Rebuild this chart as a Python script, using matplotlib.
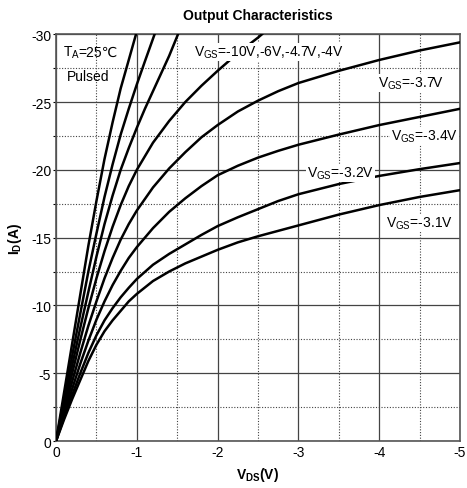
import numpy as np
import matplotlib
matplotlib.use("Agg")
import matplotlib.pyplot as plt
from matplotlib.ticker import MultipleLocator

plt.rcParams['font.family'] = ['Liberation Sans', 'DejaVu Sans']
plt.rcParams['mathtext.fontset'] = 'custom'
plt.rcParams['mathtext.rm'] = 'Liberation Sans'
plt.rcParams['mathtext.bf'] = 'Liberation Sans:bold'
plt.rcParams['axes.unicode_minus'] = False

# P-channel curves, magnitudes (|Vds| in V, |Id| in A)
vds_m10 = [0, 0.1, 0.2, 0.3, 0.4, 0.5, 0.6, 0.7, 0.8, 0.9, 0.99]
id_m10 = [0, 3.6, 7.2, 10.8, 14.4, 17.7, 20.8, 23.5, 26.0, 28.1, 30.0]

vds_m6 = [0, 0.1, 0.2, 0.3, 0.4, 0.5, 0.6, 0.7, 0.8, 0.9, 1.0, 1.1, 1.22]
id_m6 = [0, 3.15, 6.3, 9.4, 12.5, 15.3, 18.0, 20.4, 22.6, 24.5, 26.3, 28.0, 30.0]

vds_m47 = [0, 0.1, 0.2, 0.3, 0.4, 0.5, 0.6, 0.7, 0.8, 0.9, 1.0, 1.1, 1.2, 1.3, 1.4, 1.51]
id_m47 = [0, 2.8, 5.6, 8.35, 11.0, 13.6, 16.0, 18.1, 20.0, 21.6, 23.1, 24.5, 25.8, 27.1, 28.4, 30.0]

vds_m4 = [0, 0.1, 0.2, 0.3, 0.4, 0.5, 0.6, 0.7, 0.8, 0.9, 1.0, 1.2, 1.4, 1.6, 1.8,
          2.0, 2.25, 2.5, 2.55]
id_m4 = [0, 2.5, 5.0, 7.45, 9.8, 12.0, 14.0, 15.8, 17.4, 18.8, 20.0, 22.0, 23.6, 25.0, 26.2,
         27.3, 28.6, 29.75, 30.0]

vds_low = [0, 0.1, 0.2, 0.3, 0.4, 0.5, 0.6, 0.7, 0.8, 0.9, 1.0, 1.2, 1.4, 1.6, 1.8,
           2.0, 2.25, 2.5, 2.75, 3.0, 3.5, 4.0, 4.5, 5.0]
id_m37 = [0, 2.2, 4.4, 6.5, 8.5, 10.3, 12.0, 13.5, 14.85, 16.0, 17.0, 18.7, 20.1, 21.3, 22.4,
          23.3, 24.3, 25.1, 25.8, 26.4, 27.3, 28.1, 28.8, 29.4]
id_m34 = [0, 1.95, 3.85, 5.7, 7.4, 8.95, 10.3, 11.5, 12.55, 13.5, 14.3, 15.7, 16.9, 17.9, 18.8,
          19.6, 20.3, 20.9, 21.4, 21.85, 22.6, 23.3, 23.9, 24.5]
id_m32 = [0, 1.75, 3.4, 5.0, 6.5, 7.8, 8.9, 9.8, 10.6, 11.3, 11.95, 13.0, 13.8, 14.5, 15.2,
          15.85, 16.5, 17.1, 17.7, 18.2, 18.95, 19.55, 20.05, 20.5]
id_m31 = [0, 1.6, 3.1, 4.5, 5.9, 7.1, 8.1, 8.9, 9.6, 10.3, 10.85, 11.8, 12.5, 13.1, 13.6,
          14.1, 14.65, 15.1, 15.5, 15.9, 16.7, 17.4, 18.0, 18.5]

curves = [(vds_m10, id_m10), (vds_m6, id_m6), (vds_m47, id_m47), (vds_m4, id_m4),
          (vds_low, id_m37), (vds_low, id_m34), (vds_low, id_m32), (vds_low, id_m31)]

fig = plt.figure(figsize=(4.67, 4.89), dpi=100)
ax = fig.add_axes([0.120, 0.096, 0.865, 0.832])

for vds, idd in curves:
    ax.plot(-np.array(vds), -np.array(idd), color='black', lw=1.8, zorder=3,
            solid_joinstyle='round')

ax.set_xlim(0, -5)
ax.set_ylim(0, -30)
ax.xaxis.set_major_locator(MultipleLocator(1))
ax.xaxis.set_minor_locator(MultipleLocator(0.5))
ax.yaxis.set_major_locator(MultipleLocator(5))
ax.yaxis.set_minor_locator(MultipleLocator(2.5))

ax.grid(True, which='major', color='#444444', lw=0.9, ls='-')
ax.grid(True, which='minor', color='#444444', lw=0.8, ls=(0, (1, 1.5)))
ax.set_axisbelow(True)

ax.tick_params(axis='y', which='both', direction='out', length=2.5, width=0.8,
               labelsize=10, pad=1)
ax.tick_params(axis='x', which='both', length=0, labelsize=10, pad=3)
for sp in ax.spines.values():
    sp.set_color('#555555')
    sp.set_linewidth(1.2)

ax.set_title('Output Characteristics', fontsize=10, fontweight='bold', pad=11)
ax.set_xlabel(r'$\mathbf{V_{DS}(V)}$', fontsize=10, labelpad=4)
ax.set_ylabel(r'$\mathbf{I_{D}(A)}$', fontsize=10, labelpad=5)

fs = 10
ax.text(-0.08, -28.4, r'T$_\mathregular{A}$', fontsize=fs, ha='left', va='baseline', zorder=4)
ax.text(-0.28, -28.4, '=25℃', fontsize=fs, ha='left', va='baseline', zorder=4)
ax.text(-0.14, -26.9, 'Pulsed', fontsize=fs, ha='left', va='center', zorder=4)

box = dict(facecolor='white', edgecolor='none', pad=0.6)
ax.text(-1.71, -28.7, r'V$_\mathregular{GS}$=-10V,-6V,-4.7V,-4V', fontsize=fs,
        ha='left', va='center', bbox=box, zorder=4)
ax.text(-3.98, -26.4, r'V$_\mathregular{GS}$=-3.7V', fontsize=fs,
        ha='left', va='center', bbox=box, zorder=4)
ax.text(-4.15, -22.5, r'V$_\mathregular{GS}$=-3.4V', fontsize=fs,
        ha='left', va='center', bbox=box, zorder=4)
ax.text(-3.11, -19.8, r'V$_\mathregular{GS}$=-3.2V', fontsize=fs,
        ha='left', va='center', bbox=box, zorder=4)
ax.text(-4.09, -16.1, r'V$_\mathregular{GS}$=-3.1V', fontsize=fs,
        ha='left', va='center', bbox=box, zorder=4)

fig.savefig('out.png', dpi=100)
